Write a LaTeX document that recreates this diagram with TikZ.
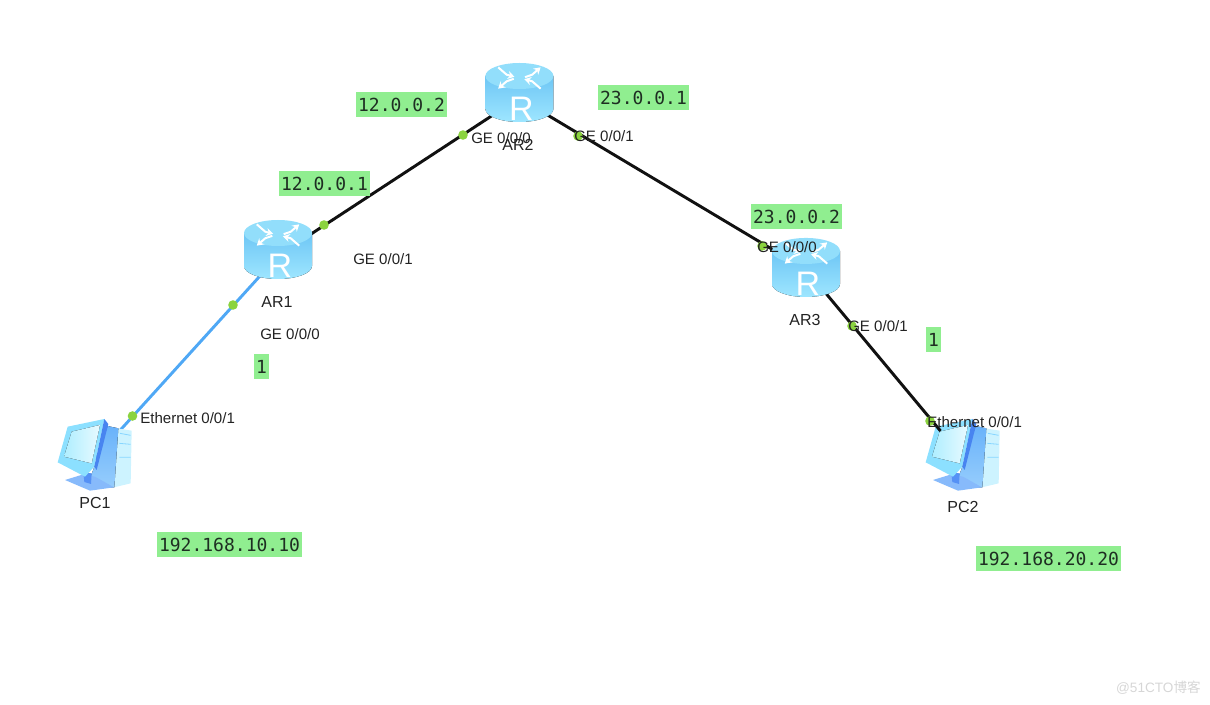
\documentclass[tikz,border=0pt]{standalone}
\usepackage{fontspec}
\setmainfont{Liberation Sans}
\newfontfamily\monof{DejaVu Sans Mono}
\newfontfamily\cjkf{Noto Sans CJK SC}
\usetikzlibrary{arrows.meta}
\definecolor{tagbg}{HTML}{90EE90}
\definecolor{tagfg}{HTML}{1E2E22}
\definecolor{lblc}{HTML}{222222}
\definecolor{dotc}{HTML}{8BD33F}
\definecolor{linkblue}{HTML}{4FA8F5}
\definecolor{linkblack}{HTML}{111111}
\tikzset{
  x=0.75pt,y=-0.75pt,
  hub/.style={inner sep=0pt,outer sep=0pt,minimum width=1pt,minimum height=1pt},
  tag/.style={fill=tagbg,text=tagfg,font=\monof\fontsize{13.5pt}{15pt}\selectfont,inner xsep=1.7pt,inner ysep=0pt,minimum height=18.75pt,text height=10pt,text depth=0pt},
  lbl/.style={text=lblc,font=\fontsize{11.3pt}{13pt}\selectfont,inner sep=0pt,anchor=west},
  devlbl/.style={text=lblc,font=\fontsize{12pt}{14pt}\selectfont,inner sep=0pt},
  portdot/.style={circle,fill=dotc,inner sep=0pt,minimum size=7.2pt},
  link/.style={line width=2.2pt,line cap=butt},
  router/.pic={
    \fill[top color={rgb,255:red,110;green,198;blue,245},bottom color={rgb,255:red,158;green,230;blue,255}]
      (-34,-22) -- (-34,11) arc[start angle=180,end angle=360,x radius=25.5pt,y radius=9.75pt] -- (34,-22) -- cycle;
    \fill[fill={rgb,255:red,146;green,222;blue,251}] (0,-22) ellipse[x radius=25.5pt,y radius=9.75pt];
    \begin{scope}[shift={(0,-20)},yscale=.58]
      \foreach \a in {45,225}{
        \draw[white,line width=1.5pt,-{Stealth[length=5pt,width=6pt]},rotate=\a] (5,3) -- (13,5) -- (28,2);
      }
      \foreach \a in {135,315}{
        \draw[white,line width=1.5pt,-{Stealth[length=5pt,width=6pt]},rotate=\a] (28,-2) -- (13,-5) -- (5,-2);
      }
    \end{scope}
    \node[text=white,font=\fontsize{25.5pt}{27pt}\selectfont,inner sep=0pt] (-letter) at (2,11) {R};
  },
  pcicon/.pic={
    \begin{scope}[x=.25pt,y=-.25pt,shift={(-165,-174)}]
      \fill[fill={rgb,255:red,205;green,243;blue,255}] (232,85) -- (275,92) -- (272,250) -- (222,262) -- cycle;
      \fill[top color={rgb,255:red,105;green,178;blue,250},bottom color={rgb,255:red,150;green,205;blue,252}] (203,78) -- (235,85) -- (223,262) -- (140,262) -- (165,195) -- cycle;
      \draw[color={rgb,255:red,135;green,214;blue,255},line width=.6pt] (240,100) -- (272,106) (238,130) -- (272,133) (238,172) -- (272,172);
      \fill[fill={rgb,255:red,135;green,186;blue,251}] (75,240) -- (130,223) -- (165,230) -- (222,262) -- (150,272) -- cycle;
      \fill[fill={rgb,255:red,85;green,145;blue,245}] (130,218) -- (155,220) -- (153,252) -- (133,246) -- cycle;
      \fill[fill={rgb,255:red,140;green,224;blue,255}] (53,187) -- (83,80) -- (193,57) -- (163,200) -- (135,230) -- cycle;
      \fill[left color={rgb,255:red,175;green,238;blue,255},right color={rgb,255:red,232;green,250;blue,255}] (72,170) -- (95,95) -- (180,75) -- (155,190) -- cycle;
      \fill[fill={rgb,255:red,72;green,132;blue,240}] (193,57) -- (205,72) -- (170,210) -- (163,200) -- cycle;
    \end{scope}
  }
}
\begin{document}
\begin{tikzpicture}
\useasboundingbox (0,0) rectangle (1210,705);
% device hubs
\node[hub] (ar1) at (279,255) {};
\node[hub] (ar2) at (519,98) {};
\node[hub] (ar3) at (806,269.5) {};
\node[hub] (pc1) at (95,458) {};
\node[inner sep=0pt,outer sep=0pt,minimum width=55.5pt,minimum height=40.5pt] (pc2) at (963,458) {};
% PC2 lies beneath its link
\pic (pc2icon) at (pc2.center) {pcicon};
% links
\draw[link,linkblue] (ar1.center) -- (pc1.center);
\draw[link,linkblack] (ar1.center) -- (ar2.center);
\draw[link,linkblack] (ar2.center) -- (ar3.center);
\draw[link,linkblack] (ar3.center) -- (pc2);
% icons on top of the link ends
\pic (ar1icon) at ([xshift=-.75pt]ar1.center) {router};
\pic (ar2icon) at ([xshift=.3pt]ar2.center) {router};
\pic (ar3icon) at ([yshift=-2.6pt]ar3.center) {router};
\pic (pc1icon) at (pc1.center) {pcicon};
% port dots
\node[portdot] (d1) at (233,305) {};
\node[portdot] (d2) at (132.5,416) {};
\node[portdot] (d3) at (324,225) {};
\node[portdot] (d4) at (463,135) {};
\node[portdot] (d5) at (578,136) {};
\node[portdot] (d6) at (762,246) {};
\node[portdot] (d7) at (852,326) {};
\node[portdot] (d8) at (930,421) {};
% device labels
\node[devlbl] (l1) at (277,302) {AR1};
\node[devlbl] (l2) at (518,145) {AR2};
\node[devlbl] (l3) at (805,320) {AR3};
\node[devlbl] (l4) at (95,503) {PC1};
\node[devlbl] (l5) at (963,507) {PC2};
% port labels
\node[lbl] (p1) at (260,334) {GE 0/0/0};
\node[lbl] (p2) at (353,259) {GE 0/0/1};
\node[lbl] (p3) at (471,138) {GE 0/0/0};
\node[lbl] (p4) at (574,136) {GE 0/0/1};
\node[lbl] (p5) at (757,247) {GE 0/0/0};
\node[lbl] (p6) at (848,326) {GE 0/0/1};
\node[lbl] (p7) at (140,418.5) {Ethernet 0/0/1};
\node[lbl] (p8) at (927,422) {Ethernet 0/0/1};
% address tags
\node[tag] (t1) at (324.5,184) {12.0.0.1};
\node[tag] (t2) at (401.5,104.5) {12.0.0.2};
\node[tag] (t3) at (643.5,98) {23.0.0.1};
\node[tag] (t4) at (796.5,217) {23.0.0.2};
\node[tag] (t5) at (261.5,366.5) {1};
\node[tag] (t6) at (933.5,340) {1};
\node[tag] (t7) at (229.5,544.5) {192.168.10.10};
\node[tag] (t8) at (1048.5,558.5) {192.168.20.20};
% watermark
\node[text=black!16,inner sep=0pt,anchor=east,font=\fontsize{10.2pt}{12pt}\selectfont] (wm) at (1201,688) {@51CTO{\cjkf 博客}};
\end{tikzpicture}
\end{document}
